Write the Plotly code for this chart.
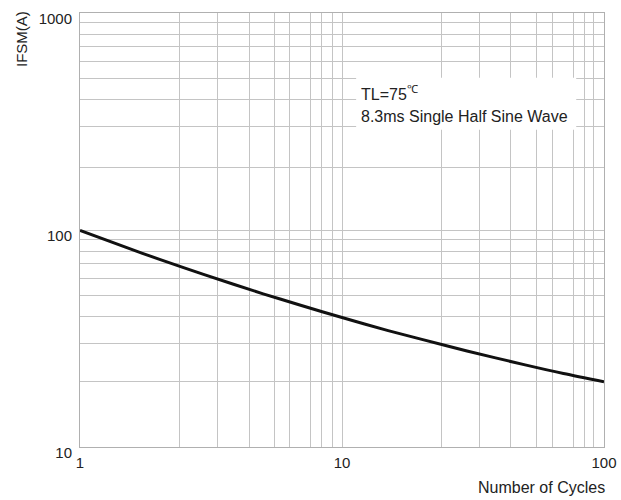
import plotly.graph_objects as go

# Curve (log-log)
cycles = [1, 1.5, 2, 3, 5, 7, 10, 15, 20, 30, 50, 70, 100]
ifsm = [99.5, 83.1, 73.4, 62.1, 50.8, 44.9, 39.5, 34.4, 31.4, 27.7, 23.9, 21.8, 20.0]

# Axis ticks / grid positions
x_major = [1, 10, 100]
x_major_text = ["1", "10", "100"]
x_grid = [2.39, 3.36, 4.42, 5.51, 6.33, 7.60, 8.34, 9.18,
          23.9, 33.6, 44.0, 55.3, 63.5, 76.4, 83.9, 91.0]
y_major = [10, 100, 1000]
y_major_text = ["10", "100", "1000"]
y_grid = [20, 30, 40, 50, 60, 70, 80, 90,
          194, 300, 400, 500, 600, 700, 800, 900]

FONT = "Liberation Sans, Arial, sans-serif"
TXT = "#222222"
GRID = "#c4c4c4"

fig = go.Figure()
fig.add_trace(go.Scatter(
    x=cycles, y=ifsm, mode="lines",
    line=dict(color="#111111", width=3, shape="spline", smoothing=0.8),
    showlegend=False, hoverinfo="skip",
))

xt = x_major + x_grid
xtt = x_major_text + [""] * len(x_grid)
yt = y_major + y_grid
ytt = y_major_text + [""] * len(y_grid)

fig.update_layout(
    width=621, height=500,
    margin=dict(l=80, r=17, t=13, b=53, autoexpand=False),
    paper_bgcolor="white", plot_bgcolor="white",
    font=dict(family=FONT, size=15, color=TXT),
    xaxis=dict(
        type="log", range=[0, 2], automargin=False,
        tickmode="array", tickvals=xt, ticktext=xtt,
        showgrid=True, gridcolor=GRID, gridwidth=1,
        showline=True, linecolor="#b0b0b0", linewidth=1, mirror=True,
        ticks="", zeroline=False, ticklabelstandoff=2,
        tickfont=dict(family=FONT, size=15, color=TXT),
    ),
    yaxis=dict(
        type="log", range=[1, 3], automargin=False,
        tickmode="array", tickvals=yt, ticktext=ytt,
        showgrid=True, gridcolor=GRID, gridwidth=1,
        showline=True, linecolor="#b0b0b0", linewidth=1, mirror=True,
        ticks="", zeroline=False, ticklabelshift=6, ticklabelstandoff=4,
        tickfont=dict(family=FONT, size=15, color=TXT),
    ),
)

# white box behind the note
fig.add_shape(type="rect", xref="paper", yref="paper",
              x0=0.527, x1=0.947, y0=0.731, y1=0.851,
              fillcolor="white", line=dict(width=0), layer="above")

fig.add_annotation(xref="paper", yref="paper", x=0.5324, y=0.816,
                   xanchor="left", yanchor="middle", showarrow=False,
                   text="TL=75<sup>℃</sup>", font=dict(size=16, color=TXT))
fig.add_annotation(xref="paper", yref="paper", x=0.5324, y=0.761,
                   xanchor="left", yanchor="middle", showarrow=False,
                   text="8.3ms Single Half Sine Wave", font=dict(size=16, color=TXT))

# axis titles
fig.add_annotation(xref="paper", yref="paper", x=1.0057, y=-0.093,
                   xanchor="right", yanchor="middle", showarrow=False,
                   text="Number of Cycles", font=dict(size=16, color=TXT))
fig.add_annotation(xref="paper", yref="paper", x=-0.1126, y=0.940,
                   xanchor="center", yanchor="middle", showarrow=False,
                   textangle=-90, text="IFSM(A)", font=dict(size=15, color=TXT))

fig.write_html("out.html")
